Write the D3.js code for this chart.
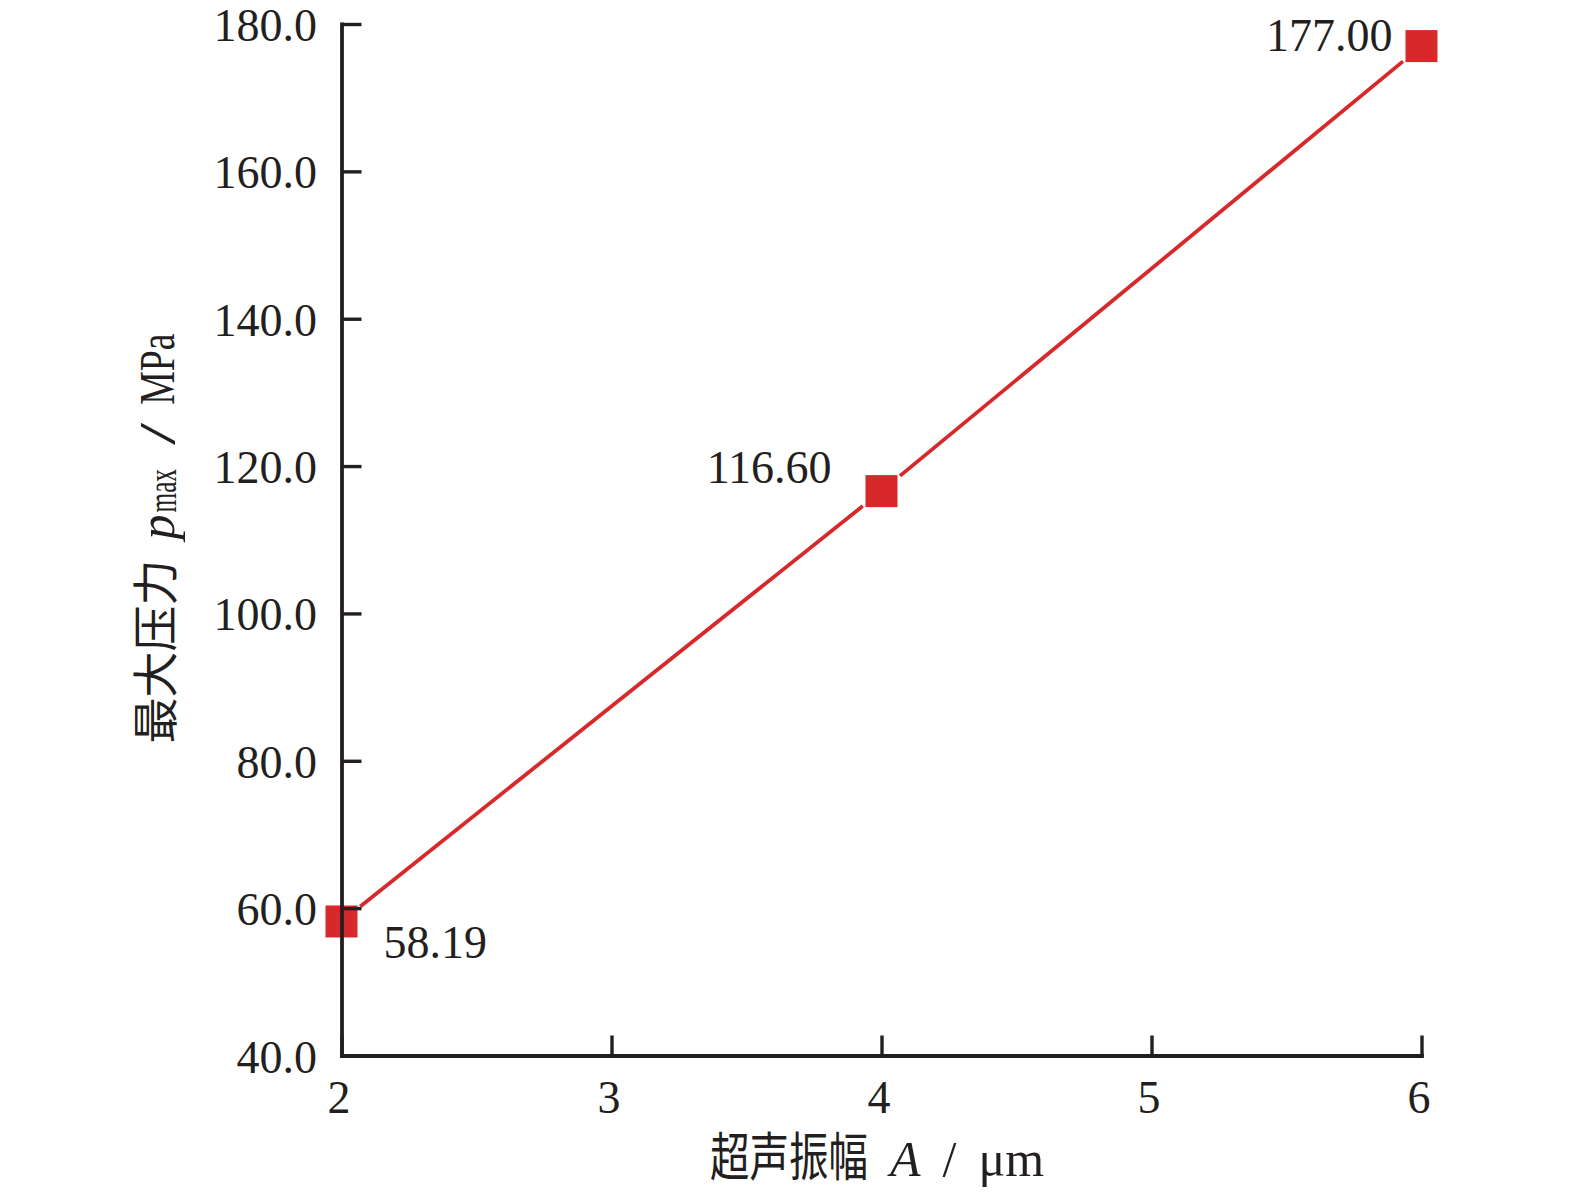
<!DOCTYPE html>
<html>
<head>
<meta charset="utf-8">
<script src="https://cdn.jsdelivr.net/npm/d3@7"></script>
<style>
  html, body { margin: 0; padding: 0; background: #ffffff; }
  svg { display: block; }
</style>
</head>
<body>
<script>
// ---- data ----
const amplitude = [2, 4, 6];                 // 超声振幅 A / μm
const pmax = [58.19, 116.60, 177.00];        // 最大压力 p_max / MPa
const pointLabels = ["58.19", "116.60", "177.00"];
const xTicks = [2, 3, 4, 5, 6];
const yTicks = [40, 60, 80, 100, 120, 140, 160, 180];
const yTickLabels = ["40.0", "60.0", "80.0", "100.0", "120.0", "140.0", "160.0", "180.0"];

// ---- layout / style ----
const W = 1575, H = 1192;
const ink = "#231f20";
const red = "#d7282b";
const serif = "'Liberation Serif','Times New Roman',serif";
const cjk = "'Noto Sans CJK SC','Noto Sans CJK JP',sans-serif";
const labelOffsets = [
  { dx: 42, dy: 37, anchor: "start" },
  { dx: -50, dy: -8, anchor: "end" },
  { dx: -29, dy: 5, anchor: "end" }
];

const svg = d3.select("body").append("svg")
  .attr("width", W).attr("height", H);

const x = d3.scaleLinear().domain([2, 6]).range([341.5, 1421.5]);
const y = d3.scaleLinear().domain([40, 180]).range([1055.5, 24]);

// ---- line with gaps around markers ----
const gap = 24;
const pts = amplitude.map((a, i) => [x(a), y(pmax[i])]);
const segs = [];
for (let i = 0; i < pts.length - 1; i++) {
  const [x0, y0] = pts[i], [x1, y1] = pts[i + 1];
  const len = Math.hypot(x1 - x0, y1 - y0);
  const ux = (x1 - x0) / len, uy = (y1 - y0) / len;
  segs.push([[x0 + ux * gap, y0 + uy * gap], [x1 - ux * gap, y1 - uy * gap]]);
}
svg.append("g").selectAll("path").data(segs).join("path")
  .attr("d", d => d3.line()(d))
  .attr("stroke", red).attr("stroke-width", 3.8).attr("fill", "none");

// ---- markers ----
const ms = 32;
svg.append("g").selectAll("rect").data(amplitude).join("rect")
  .attr("x", (d) => x(d) - ms / 2)
  .attr("y", (d, i) => y(pmax[i]) - ms / 2)
  .attr("width", ms).attr("height", ms)
  .attr("fill", red);

// ---- data labels ----
svg.append("g").selectAll("text").data(pointLabels).join("text")
  .attr("x", (d, i) => x(amplitude[i]) + labelOffsets[i].dx)
  .attr("y", (d, i) => y(pmax[i]) + labelOffsets[i].dy)
  .attr("text-anchor", (d, i) => labelOffsets[i].anchor)
  .attr("font-family", serif).attr("font-size", 46).attr("fill", ink)
  .text(d => d);

// ---- axes ----
const yAxis = d3.axisLeft(y).tickValues(yTicks)
  .tickFormat((d, i) => yTickLabels[i])
  .tickSize(-20).tickSizeOuter(0).tickPadding(24.5);
const gy = svg.append("g").attr("transform", `translate(${x(2)},0)`).call(yAxis);

const xAxis = d3.axisBottom(x).tickValues(xTicks)
  .tickFormat(d3.format("d"))
  .tickSize(-20).tickSizeOuter(0).tickPadding(25);
const gx = svg.append("g").attr("transform", `translate(0,${y(40)})`).call(xAxis);

[gx, gy].forEach(g => {
  g.select(".domain").attr("stroke", ink).attr("stroke-width", 3.8).attr("stroke-linecap", "square");
  g.selectAll(".tick line").attr("stroke", ink).attr("stroke-width", 3.4);
  g.selectAll(".tick text").attr("fill", ink)
    .attr("font-family", serif).attr("font-size", 46);
});
gy.selectAll(".tick text").attr("dy", "0.36em");
gx.selectAll(".tick text").attr("dx", -3);

// ---- rich multi-piece labels ----
function richLabel(parent, pieces) {
  const g = parent.append("g");
  let cur = 0;
  pieces.forEach(p => {
    cur += p.gap || 0;
    const t = g.append("text")
      .attr("font-family", p.family).attr("font-size", p.size)
      .attr("font-style", p.italic ? "italic" : "normal")
      .attr("fill", ink)
      .text(p.text);
    const sx = p.sx || 1;
    t.attr("transform", `translate(${cur},${p.dy || 0}) scale(${sx},1)`);
    cur += t.node().getComputedTextLength() * sx;
  });
  g.attr("transform", `translate(${-cur / 2},0)`);
  return g;
}

// x-axis title
const xt = svg.append("g").attr("transform", `translate(877,1176)`);
richLabel(xt, [
  { text: "超声振幅", family: cjk, size: 52, sx: 0.76 },
  { text: "A", family: serif, size: 50, italic: true, gap: 22 },
  { text: "/", family: serif, size: 50, gap: 22 },
  { text: "μm", family: serif, size: 50, gap: 22 }
]);

// y-axis title (rotated)
const yt = svg.append("g").attr("transform", `translate(174,538.5) rotate(-90)`);
richLabel(yt, [
  { text: "最大压力", family: cjk, size: 46, dy: -2 },
  { text: "p", family: serif, size: 50, italic: true, gap: 20 },
  { text: "max", family: serif, size: 40, sx: 0.63, gap: 2, dy: 2 },
  { text: "/", family: serif, size: 50, sx: 1.6, gap: 24 },
  { text: "MPa", family: serif, size: 51, sx: 0.74, gap: 18 }
]);
</script>
</body>
</html>
